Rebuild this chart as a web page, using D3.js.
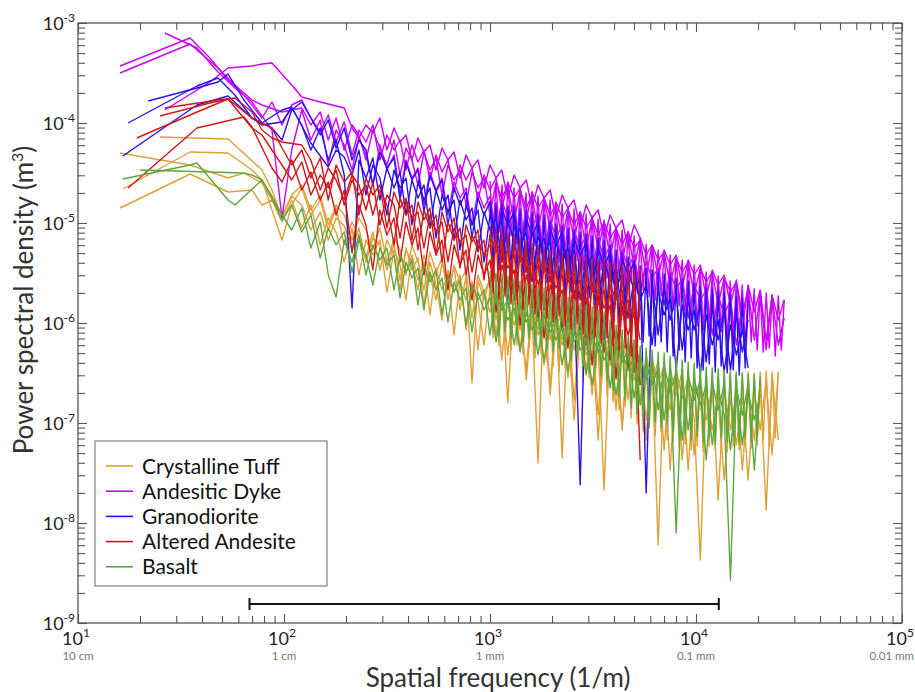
<!DOCTYPE html>
<html>
<head>
<meta charset="utf-8">
<script src="https://cdn.jsdelivr.net/npm/d3@7"></script>
<style>
  body { margin: 0; background: #fff; }
  text { font-family: Lato, "Open Sans", sans-serif; }
</style>
</head>
<body>
<div id="my_dataviz"></div>
<script>
  // shared frequency grid (1/m)
  var freq = [
    16.0, 16.5, 17.5, 19.3, 20.0, 21.9, 25.0, 26.4, 32.0, 35.0,
    37.8, 43.7, 47.8, 53.5, 57.8, 63.9, 69.9, 78.2, 87.4, 97.8,
    109, 122, 135, 150, 164, 179, 196, 214, 231, 250,
    270, 292, 316, 342, 366, 391, 418, 447, 478, 511,
    547, 585, 625, 669, 715, 765, 818, 874, 935, 1000,
    1070, 1140, 1220, 1310, 1400, 1500, 1600, 1710, 1830, 1960,
    2090, 2240, 2390, 2560, 2740, 2930, 3130, 3350, 3580, 3830,
    4090, 4380, 4680, 5010, 5360, 5730, 6120, 6550, 7000, 7490,
    8010, 8570, 9160, 9800, 10500, 11200, 12000, 12800, 13700, 14700,
    15700, 16800, 17900, 19200, 20500, 21900, 23400, 25100, 26800
  ];

  // finer grid for the dense high-frequency part (1/m)
  var freqFine = [
    1000, 1034, 1069, 1106, 1144, 1183, 1223, 1265, 1308, 1353,
    1399, 1447, 1496, 1547, 1600, 1655, 1711, 1770, 1830, 1893,
    1957, 2024, 2093, 2165, 2239, 2315, 2394, 2476, 2560, 2648,
    2738, 2831, 2928, 3028, 3131, 3238, 3349, 3463, 3581, 3703,
    3830, 3960, 4096, 4235, 4380, 4530, 4684, 4844, 5009, 5180,
    5357, 5540, 5729, 5924, 6126, 6335, 6552, 6775, 7006, 7245,
    7493, 7748, 8013, 8286, 8569, 8861, 9163, 9476, 9800, 10134,
    10480, 10838, 11208, 11590, 11986, 12395, 12818, 13255, 13708, 14175,
    14659, 15159, 15677, 16212, 16765, 17337, 17929, 18541, 19173, 19828,
    20504, 21204, 21928, 22676, 23450, 24250, 25078, 25934, 26819
  ];

  var _ = null;

  // log10 of power spectral density (m^3), one row per profile, aligned to freq
  var tuff = [
    [-4.30,_,_,_,_,_,_,_,_,-4.42,
     _,_,_,-4.55,_,-4.50,_,-4.60,-4.77,-4.92,
     -4.73,-4.82,-5.07,-4.89,-5.17,-4.95,-5.03,-5.27,-5.05,-5.39,
     -5.15,-5.22,-5.47,-5.20,-5.57,-5.27,-5.39,-5.67,-5.32,-5.52,
     -5.77,-5.39,-5.62,-5.45,-5.87,-5.53,-6.60,-5.57,-5.77,-5.55,
     -5.97,-5.62,-6.80,-5.67,-6.07,-5.72,-5.92,-7.40,-5.77,-6.17,
     -5.82,-7.35,-5.87,-6.27,-5.92,-6.47,-5.97,-6.22,-7.67,-6.07,
     -6.57,-6.12,-6.77,-6.17,-6.49],
    [_,-4.66,_,_,_,_,_,_,_,-4.29,
     _,_,_,-4.30,_,_,-4.47,-4.57,_,-5.17,
     -4.82,-4.65,-4.92,-4.77,-5.07,-4.85,-5.22,-4.99,-5.13,-5.35,
     -5.09,-5.47,-5.17,-5.32,-5.67,-5.25,-5.47,-5.35,-5.82,-5.39,
     -5.62,-5.97,-5.47,-5.69,-5.52,-6.07,-5.59,-5.77,-6.22,-5.65,
     -5.85,-5.69,-6.32,-5.75,-5.95,-6.47,-5.79,-6.07,-5.87,-6.62,
     -5.92,-6.17,-5.95,-6.77,-6.02,-6.27,-6.07,-6.92,-6.12,-6.37,
     -6.17,-7.07,-6.22,-6.49,-6.29,-7.17,-6.35,-6.62,-6.42,-7.47,
     -6.47,-6.75,-6.55,-7.32,-6.57,-6.97,-6.62,-7.77,-6.65,-7.07,
     -6.69,-7.47,-6.67,-7.17,-6.62,-7.87,-6.52,-7.17],
    [-4.85,_,_,_,_,_,_,_,-4.55,-4.51,
     _,_,_,-4.69,_,_,-4.67,-4.82,-4.77,-4.99,
     -4.77,-5.05,-4.82,-5.22,-4.95,-5.09,-5.39,-5.05,-5.52,-5.17,
     -5.32,-5.17,-5.69,-5.27,-5.42,-5.77,-5.32,-5.57,-5.39,-5.92,
     -5.45,-5.67,-5.52,-6.12,-5.57,-5.77,-5.62,-6.27,-5.67,-5.89,
     -5.72,-6.37,-5.77,-6.02,-5.82,-6.57,-5.87,-6.12,-5.92,-6.72,
     -5.97,-6.22,-6.02,-6.97,-6.07,-6.32,-6.12,-7.17,-6.17,-6.42,
     -6.22,-7.02,-6.29,-6.57,-6.35,-6.97,-6.42,-8.22,-6.47,-6.87,
     -6.52,-7.37,-6.57,-6.97,-8.37,-6.67,-7.07,-6.72,-7.57,-6.75,
     -7.22,-6.72,-7.57,-6.69,-7.07,-6.57,-7.32,-6.49],
    [_,_,_,_,_,_,-4.14,_,_,_,
     _,_,_,-4.16,_,_,_,-4.47,-4.67,-4.95,
     -4.72,-4.62,-4.87,-4.72,-5.02,-4.82,-4.92,-5.17,-4.95,-5.07,
     -5.27,-5.05,-5.39,-5.15,-5.27,-5.52,-5.22,-5.39,-5.67,-5.29,
     -5.49,-5.35,-5.77,-5.42,-5.59,-5.47,-5.95,-5.52,-5.69,-5.57,
     -6.12,-5.62,-5.79,-5.67,-6.27,-5.72,-5.95,-5.77,-6.42,-5.82,
     -6.05,-5.87,-6.55,-5.95,-6.17,-5.99,-6.72,-6.07,-6.27,-6.12,
     -6.87,-6.17,-6.42,-6.25,-6.77,-6.32,-6.57,-6.39,-7.27,-6.45,
     -6.72,-6.49,-7.47,-6.55,-6.87]
  ];

  var dyke = [
    [-3.50,_,_,_,_,_,_,_,_,-3.21,
     _,_,-3.45,_,-3.62,_,-3.77,-3.82,_,-3.89,
     _,-3.85,-4.02,-3.89,-4.17,-3.95,-4.27,-4.02,-4.12,-4.37,
     -4.07,-4.25,-4.42,-4.17,-4.52,-4.25,-4.37,-4.62,-4.29,-4.47,
     -4.35,-4.72,-4.42,-4.57,-4.47,-4.82,-4.49,-4.65,-4.55,-4.92,
     -4.59,-4.75,-4.63,-4.99,-4.67,-4.85,-4.72,-5.09,-4.75,-4.92,
     -4.82,-5.17,-4.87,-5.02,-4.89,-5.27,-4.95,-5.12,-4.99,-5.35,
     -5.05,-5.22,-5.09,-5.45,-5.15,-5.32,-5.22,-5.55,-5.27,-5.42,
     -5.32,-5.65,-5.37,-5.52,-5.42,-5.75,-5.47,-5.62,-5.52,-5.82,
     -5.57,-6.07,-5.62,-5.89,-5.67,-6.17,-5.72,-5.97,-5.77],
    [-3.43,_,_,_,_,_,_,_,_,-3.15,
     _,-3.35,_,-3.57,_,-3.72,_,-3.95,-3.79,-4.02,
     -3.82,-3.77,-3.95,-4.09,-3.92,-4.19,-3.99,-4.32,-4.07,-4.19,
     -4.02,-4.37,-4.12,-4.27,-4.17,-4.47,-4.22,-4.39,-4.27,-4.57,
     -4.32,-4.49,-4.37,-4.69,-4.42,-4.57,-4.45,-4.77,-4.52,-4.67,
     -4.55,-4.87,-4.59,-4.75,-4.65,-4.97,-4.69,-4.85,-4.75,-5.07,
     -4.79,-4.95,-4.85,-5.17,-4.89,-5.05,-4.95,-5.27,-4.99,-5.15,
     -5.05,-5.39,-5.09,-5.25,-5.17,-5.52,-5.22,-5.37,-5.29,-5.62,
     -5.35,-5.49,-5.39,-5.72,-5.45,-5.59,-5.49,-5.82,-5.55,-5.69,
     -5.59,-5.92,-5.65,-6.17,-5.69,-6.27,-5.73,-6.22,-5.95],
    [_,_,_,_,_,_,_,-3.10,_,_,
     -3.25,_,-3.49,_,-3.65,_,-3.79,_,-4.07,-4.95,
     -4.27,-3.87,-4.17,-3.97,-4.42,-4.07,-4.22,-4.47,-4.15,-4.32,
     -4.62,-4.22,-4.47,-4.32,-4.72,-4.37,-4.55,-4.45,-4.82,-4.49,
     -4.67,-4.55,-4.92,-4.59,-4.75,-4.65,-5.02,-4.69,-4.85,-4.73,
     -5.12,-4.77,-4.95,-4.82,-5.22,-4.87,-5.05,-4.92,-5.32,-4.97,
     -5.15,-5.02,-5.42,-5.07,-5.25,-5.12,-5.49,-5.17,-5.35,-5.22,
     -5.59,-5.27,-5.45,-5.32,-5.69,-5.39,-5.55,-5.45,-5.82,-5.49,
     -5.67,-5.55,-5.95,-5.62,-5.77,-5.67,-6.12,-5.72,-5.92,-5.77,
     -6.22,-5.82],
    [_,_,_,_,_,_,_,-3.87,_,_,
     _,-3.59,_,-3.45,_,_,-3.43,-3.41,-3.40,_,
     -3.62,-3.74,_,-3.79,_,-3.83,-3.85,-4.05,-4.15,-4.02,
     -4.10,-3.95,-4.27,-4.05,-4.19,-4.12,-4.37,-4.15,-4.29,-4.22,
     -4.47,-4.25,-4.37,-4.29,-4.55,-4.32,-4.45,-4.37,-4.65,-4.42,
     -4.55,-4.47,-4.75,-4.52,-4.65,-4.57,-4.85,-4.62,-4.75,-4.67,
     -4.95,-4.72,-4.85,-4.77,-5.05,-4.82,-4.95,-4.87,-5.15,-4.92,
     -5.05,-4.97,-5.25,-5.02,-5.15]
  ];

  var grano = [
    [_,-4.33,_,_,_,_,_,_,_,_,
     -3.82,_,_,-3.73,_,_,-3.95,-4.02,_,-3.99,
     -3.85,-4.02,-4.27,-4.05,-4.37,-4.17,-4.52,-5.85,-4.37,-4.55,
     -4.35,-4.77,-4.45,-4.65,-4.49,-4.92,-4.57,-4.75,-4.62,-5.05,
     -4.67,-4.87,-4.72,-5.17,-4.77,-4.97,-4.85,-5.29,-4.89,-5.07,
     -4.95,-5.39,-4.99,-5.17,-5.05,-5.49,-5.09,-5.27,-5.15,-5.59,
     -5.19,-5.39,-5.25,-5.69,-7.62,-5.47,-5.32,-5.79,-5.39,-5.57,
     -5.45,-5.89,-5.49,-5.67,-5.55,-7.70,-5.59,-6.12,-5.65,-5.97,
     -5.72,-6.27,-5.77,-6.07,-5.82,-6.39,-5.85,-6.17,-5.89,-6.47,
     -5.92,-6.29,-5.97],
    [_,_,-4.00,_,_,_,_,_,_,_,
     -3.63,_,-3.55,_,-3.72,_,-3.95,_,-4.05,-4.17,
     -3.87,-3.79,-3.95,-4.12,-3.97,-4.25,-4.05,-4.37,-4.17,-4.27,
     -4.62,-4.29,-4.45,-4.35,-4.77,-4.39,-4.57,-4.47,-4.89,-4.52,
     -4.69,-4.57,-5.02,-4.65,-4.82,-4.69,-5.15,-4.75,-4.92,-4.79,
     -5.25,-4.85,-5.02,-4.89,-5.35,-4.95,-5.13,-4.99,-5.45,-5.05,
     -5.23,-5.09,-5.55,-5.15,-5.33,-5.19,-5.65,-5.25,-5.43,-5.29,
     -5.75,-5.35,-5.53,-5.39,-5.87],
    [_,_,_,_,_,-3.78,_,_,_,_,
     -3.65,_,-3.59,-3.51,_,-3.77,_,-4.00,_,-3.87,
     -3.84,_,-4.20,_,-4.44,-4.27,-4.34,-4.52,-4.27,-4.72,
     -4.42,-4.55,-4.92,-4.47,-4.65,-4.55,-5.02,-4.59,-4.77,-4.65,
     -5.15,-4.72,-4.89,-4.77,-5.27,-4.82,-5.02,-4.87,-5.39,-4.92,
     -5.12,-4.97,-5.77,-5.02,-5.22,-5.09,-5.59,-5.13,-5.32,-5.17,
     -5.97,-5.22,-5.42,-5.27,-5.77,-5.32,-5.52,-5.39,-6.17,-5.45,
     -5.67,-5.49,-5.95,-5.55,-5.77,-5.62,-6.22,-5.67,-5.92,-5.75,
     -6.47,-5.82,-6.07,-5.87,-6.52,-5.92,-6.22,-5.97,-6.49,-6.02,
     -6.32,-6.07,-6.45]
  ];

  var andesite = [
    [_,_,-4.65,_,_,_,_,_,_,_,
     -4.05,_,_,_,_,-3.94,-4.04,_,-4.45,-4.59,
     -4.37,-4.67,-4.49,-4.77,-4.59,-4.92,-4.67,-5.30,-4.82,-5.02,
     -5.47,-4.87,-5.12,-4.95,-5.39,-4.99,-5.22,-5.05,-5.52,-5.09,
     -5.32,-5.17,-5.67,-5.22,-5.42,-5.27,-5.77,-5.32,-5.52,-5.37,
     -5.89,-5.42,-5.62,-5.47,-6.02,-5.52,-5.72,-5.57,-6.15,-5.62,
     -5.82,-5.67,-6.25,-5.69,-5.92,-5.75,-6.42,-5.77,-6.02,-5.82,
     -6.55,-5.87,-6.12,-5.89,-6.62],
    [_,_,_,-4.15,_,_,_,_,_,-3.92,
     _,_,_,-3.76,_,_,-4.05,-4.12,-4.27,-4.42,
     -4.57,-4.39,-4.72,-4.52,-4.65,-4.47,-4.82,-4.57,-4.72,-4.62,
     -4.92,-4.67,-4.82,-5.22,-4.75,-4.92,-4.82,-5.27,-4.87,-5.05,
     -4.92,-5.39,-4.99,-5.17,-5.05,-5.52,-5.12,-5.27,-5.17,-5.65,
     -5.22,-5.39,-5.27,-5.77,-5.32,-5.49,-5.39,-5.95,-5.42,-5.59,
     -5.47,-6.07,-5.52,-5.69,-5.57,-6.22,-5.62,-5.79,-5.67,-6.37,
     -5.72,-5.89,-5.77,-6.49,-5.82],
    [_,_,_,_,_,_,-3.93,_,_,_,
     _,-3.80,_,-3.76,_,_,-3.95,_,-4.05,-4.25,
     -4.42,-4.27,-4.55,-4.35,-4.77,-4.42,-4.59,-4.49,-4.92,-4.55,
     -4.72,-4.62,-5.05,-4.69,-4.85,-4.75,-5.17,-4.79,-4.97,-4.85,
     -5.32,-4.89,-5.09,-4.95,-5.45,-5.02,-5.19,-5.07,-5.57,-5.12,
     -5.29,-5.17,-5.72,-5.22,-5.39,-5.27,-5.85,-5.32,-5.49,-5.37,
     -5.99,-5.42,-5.59,-5.47,-6.12,-5.52,-5.69,-5.57,-6.29,-5.62,
     -5.77,-5.67,-6.47,-5.72,-7.37],
    [_,_,_,_,_,_,_,-3.85,_,_,
     _,_,-3.77,_,-3.75,_,-3.89,-4.07,-4.15,-4.19,
     _,-4.22,-4.37,-4.67,-4.45,-4.57,-4.77,-4.52,-4.62,-4.87,
     -4.59,-5.02,-4.72,-4.82,-5.15,-4.77,-4.95,-4.89,-5.25,-4.92,
     -5.09,-4.99,-5.39,-5.05,-5.19,-5.12,-5.49,-5.17,-5.32,-5.22,
     -5.62,-5.27,-5.45,-5.32,-5.75,-5.37,-5.55,-5.42,-5.87,-5.47,
     -5.65,-5.52,-5.99,-5.57,-5.75,-5.62,-6.12,-5.67,-5.85,-5.72,
     -6.25,-5.77,-5.95,-5.82,-6.17]
  ];

  var basalt = [
    [_,-4.56,_,_,_,_,_,_,_,-4.42,
     -4.40,_,_,-4.77,-4.82,_,_,-4.57,-4.73,-4.92,
     -5.07,-4.85,-5.25,-4.99,-5.52,-5.74,-5.17,-5.39,-5.12,-5.52,
     -5.22,-5.37,-5.25,-5.67,-5.32,-5.49,-5.37,-5.82,-5.42,-5.59,
     -5.47,-5.92,-5.52,-5.69,-5.57,-6.02,-5.62,-5.77,-5.67,-6.12,
     -5.72,-5.87,-5.77,-6.22,-5.82,-5.99,-5.87,-6.32,-5.92,-6.09,
     -5.97,-6.42,-6.02,-6.19,-6.07,-6.52,-6.12,-6.29,-6.17,-6.65,
     -6.22,-6.39,-6.27,-6.75,-6.32,-6.57,-6.37,-6.87,-6.42,-6.69,
     -6.49,-7.17,-6.52,-6.77,-6.57,-7.37,-6.59,-6.87,-6.62,-7.27,
     -6.65,-6.92,-6.62,-7.47,-6.57],
    [_,_,_,_,-4.47,_,_,_,_,_,
     _,_,_,_,_,-4.50,-4.52,-4.57,-4.75,-4.97,
     -4.82,-5.09,-4.92,-5.35,-5.05,-5.22,-5.09,-5.49,-5.17,-5.32,
     -5.62,-5.25,-5.42,-5.32,-5.75,-5.39,-5.55,-5.45,-5.87,-5.49,
     -5.67,-5.55,-5.99,-5.59,-5.77,-5.65,-6.09,-5.69,-5.87,-5.75,
     -6.19,-5.79,-5.97,-5.85,-6.29,-5.89,-6.07,-5.95,-6.39,-5.99,
     -6.17,-6.05,-6.49,-6.09,-6.27,-6.15,-6.62,-6.19,-6.37,-6.25,
     -6.72,-6.29,-6.47,-6.35,-6.82,-6.39,-6.62,-6.45,-6.97,-6.49,
     -8.10,-6.55,-7.07,-6.57,-6.82,-6.62,-7.22,-6.65,-6.92,-8.57,
     -6.67,-7.22,-6.69,-6.97,-6.72]
  ];

  // log10 PSD of the finely sampled profiles, aligned to freqFine
  var tuffFine = [
    -5.58,-6.15,-5.60,-6.23,-5.61,-6.19,-5.63,-6.27,-5.65,-6.22,
    -5.68,-6.31,-5.70,-6.25,-5.72,-6.35,-5.74,-6.31,-5.76,-6.39,
    -5.78,-6.43,-5.80,-6.49,-5.82,-6.45,-5.85,-6.53,-5.87,-6.49,
    -5.90,-6.59,-5.92,-6.55,-5.94,-6.63,-5.96,-6.67,-5.99,-6.73,
    -6.07,-6.79,-6.12,-6.87,-6.17,-6.83,-6.21,-6.95,-6.26,-7.01,
    -6.33,-7.09,-6.35,-7.05,-6.37,-7.13,-6.39,-7.09,-6.40,-7.17,
    -6.43,-7.19,-6.45,-7.25,-6.47,-7.21,-6.49,-7.27,-6.50,-7.23,
    -6.53,-7.29,-6.52,-7.23,-6.51,-7.27,-6.52,-7.25,-6.51,-7.29,
    -6.50,-7.23,-6.51,-7.27,-6.50,-7.21,-6.49,-7.25,-6.50,-7.22,
    -6.49,-7.17,-6.48,-7.23,-6.49,-7.15,-6.50
  ];
  var dykeFine = [
    -4.58,-5.15,-4.60,-5.09,-4.62,-5.18,-4.61,-5.13,-4.65,-5.21,
    -4.68,-5.17,-4.70,-5.27,-4.69,-5.23,-4.73,-5.30,-4.75,-5.26,
    -4.77,-5.32,-4.80,-5.39,-4.81,-5.35,-4.84,-5.43,-4.86,-5.38,
    -4.89,-5.47,-4.91,-5.42,-4.93,-5.51,-4.96,-5.47,-4.97,-5.55,
    -5.01,-5.59,-5.04,-5.53,-5.07,-5.64,-5.09,-5.60,-5.13,-5.69,
    -5.18,-5.67,-5.21,-5.74,-5.23,-5.77,-5.27,-5.73,-5.29,-5.82,
    -5.32,-5.87,-5.35,-5.83,-5.37,-5.93,-5.39,-5.97,-5.42,-6.03,
    -5.47,-6.07,-5.49,-6.03,-5.51,-6.13,-5.53,-6.09,-5.55,-6.17,
    -5.58,-6.19,-5.60,-6.15,-5.62,-6.22,-5.64,-6.19,-5.66,-6.27,
    -5.68,-6.29,-5.70,-6.25,-5.72,-6.33,-5.73,-6.27,-5.77
  ];
  var granoFine = [
    -4.78,-5.39,-4.80,-5.47,-4.81,-5.43,-4.83,-5.51,-4.84,-5.46,
    -4.86,-5.53,-4.88,-5.61,-4.89,-5.57,-4.91,-5.65,-4.92,-5.60,
    -4.99,-5.69,-5.01,-5.63,-5.03,-5.73,-5.05,-5.69,-5.07,-5.77,
    -5.09,-5.81,-5.11,-5.75,-5.13,-5.85,-5.15,-5.81,-5.17,-5.92,
    -5.23,-5.97,-5.27,-6.03,-5.30,-5.99,-5.34,-6.09,-5.37,-6.13,
    -5.43,-6.19,-5.45,-6.13,-5.47,-6.23,-5.49,-6.19,-5.51,-6.29,
    -5.53,-6.33,-5.55,-6.27,-5.57,-6.39,-5.58,-6.35,-5.60,-6.45,
    -5.63,-6.47,-5.65,-6.41,-5.66,-6.49,-5.68,-6.43,-5.70,-6.50,
    -5.72,-6.47,-5.74,-6.52,-5.75,-6.45,-5.77
  ];
  var andesiteFine = [
    -5.03,-5.69,-5.05,-5.77,-5.06,-5.73,-5.09,-5.81,-5.11,-5.77,
    -5.15,-5.87,-5.17,-5.81,-5.20,-5.91,-5.22,-5.87,-5.25,-5.95,
    -5.27,-5.99,-5.28,-5.93,-5.29,-6.03,-5.30,-6.07,-5.32,-6.01,
    -5.33,-6.11,-5.34,-6.17,-5.35,-6.13,-5.36,-6.21,-5.38,-6.15,
    -5.39,-6.23,-5.41,-6.29,-5.42,-6.25,-5.43,-6.33,-5.45,-6.27,
    -5.47
  ];
  var basaltFine = [
    -5.48,-6.05,-5.50,-6.13,-5.51,-6.09,-5.53,-6.15,-5.55,-6.11,
    -5.58,-6.19,-5.60,-6.15,-5.61,-6.23,-5.63,-6.19,-5.65,-6.26,
    -5.68,-6.29,-5.70,-6.25,-5.72,-6.33,-5.74,-6.37,-5.76,-6.32,
    -5.80,-6.43,-5.82,-6.49,-5.84,-6.45,-5.87,-6.53,-5.89,-6.57,
    -5.97,-6.67,-6.02,-6.73,-6.07,-6.77,-6.12,-6.85,-6.17,-6.91,
    -6.23,-6.95,-6.25,-7.03,-6.27,-6.99,-6.29,-7.05,-6.30,-7.01,
    -6.33,-7.09,-6.35,-7.15,-6.37,-7.11,-6.39,-7.17,-6.40,-7.13,
    -6.43,-7.19,-6.44,-7.13,-6.45,-7.21,-6.46,-7.15,-6.47,-7.19,
    -6.48,-7.13,-6.49,-7.21,-6.50,-7.15,-6.51,-7.19,-6.52,-7.13,
    -6.53
  ];

  var rockNames = ["Crystalline Tuff", "Andesitic Dyke", "Granodiorite", "Altered Andesite", "Basalt"];
  var rockColors = ["#e0a038", "#cc00ff", "#2a10f0", "#d01818", "#5ca83e"];
  var rockSeries = [tuff, dyke, grano, andesite, basalt];
  var rockFine = [tuffFine, dykeFine, granoFine, andesiteFine, basaltFine];

  var xMajor = [10, 100, 1000, 10000, 100000];
  var xExp = ["1", "2", "3", "4", "5"];
  var xSubLabels = ["10 cm", "1 cm", "1 mm", "0.1 mm", "0.01 mm"];
  var yMajor = [1e-9, 1e-8, 1e-7, 1e-6, 1e-5, 1e-4, 1e-3];
  var yExp = ["-9", "-8", "-7", "-6", "-5", "-4", "-3"];

  // measurement range bar (1/m) and the level it is drawn at
  var scaleBar = [68, 12900];
  var scaleBarLevel = 1.55e-9;

  var width = 915, height = 692;
  var margin = { top: 23, right: 13, bottom: 69, left: 78 };

  var svg = d3.select("#my_dataviz")
    .append("svg")
    .attr("width", width)
    .attr("height", height)
    .style("background", "#fff");

  var x = d3.scaleLog()
    .domain([10, 1e5])
    .range([margin.left, width - margin.right]);
  var y = d3.scaleLog()
    .domain([1e-9, 1e-3])
    .range([height - margin.bottom, margin.top]);

  var x0 = margin.left, x1 = width - margin.right;
  var y0 = height - margin.bottom, y1 = margin.top;

  svg.append("clipPath").attr("id", "plotclip")
    .append("rect")
    .attr("x", x0).attr("y", y1)
    .attr("width", x1 - x0).attr("height", y0 - y1);

  // spectra
  var line = d3.line()
    .x(function(d) { return x(d[0]); })
    .y(function(d) { return y(d[1]); });

  function toPoints(grid, vals) {
    var pts = [];
    vals.forEach(function(v, i) {
      if (v != null) pts.push([grid[i], Math.pow(10, v)]);
    });
    return pts;
  }

  var plot = svg.append("g").attr("clip-path", "url(#plotclip)");
  rockSeries.forEach(function(group, gi) {
    var profiles = group.map(function(vals) { return toPoints(freq, vals); });
    profiles.push(toPoints(freqFine, rockFine[gi]));
    profiles.forEach(function(pts) {
      plot.append("path")
        .attr("d", line(pts))
        .attr("fill", "none")
        .attr("stroke", rockColors[gi])
        .attr("stroke-width", 1.4)
        .attr("stroke-linejoin", "round");
    });
  });

  // ticks on all four sides, pointing inwards
  function isMajor(v) {
    var l = Math.log10(v);
    return Math.abs(l - Math.round(l)) < 1e-6;
  }
  function styleAxis(g, horiz, sign) {
    g.select(".domain").remove();
    g.selectAll(".tick line")
      .attr("stroke", "#555")
      .attr("stroke-width", 1.1)
      .each(function(d) {
        var len = isMajor(d) ? 9 : 7;
        d3.select(this).attr(horiz ? "y2" : "x2", sign * len);
      });
  }

  svg.append("g")
    .attr("transform", "translate(0," + y0 + ")")
    .call(d3.axisBottom(x).tickValues(x.ticks()).tickFormat(""))
    .call(styleAxis, true, -1);
  svg.append("g")
    .attr("transform", "translate(0," + y1 + ")")
    .call(d3.axisTop(x).tickValues(x.ticks()).tickFormat(""))
    .call(styleAxis, true, 1);
  svg.append("g")
    .attr("transform", "translate(" + x0 + ",0)")
    .call(d3.axisLeft(y).tickValues(y.ticks()).tickFormat(""))
    .call(styleAxis, false, 1);
  svg.append("g")
    .attr("transform", "translate(" + x1 + ",0)")
    .call(d3.axisRight(y).tickValues(y.ticks()).tickFormat(""))
    .call(styleAxis, false, -1);

  svg.append("rect")
    .attr("x", x0).attr("y", y1)
    .attr("width", x1 - x0).attr("height", y0 - y1)
    .attr("fill", "none")
    .attr("stroke", "#555")
    .attr("stroke-width", 1.3);

  // x tick labels
  xMajor.forEach(function(v, i) {
    var t = svg.append("text")
      .attr("x", x(v) - 2)
      .attr("y", y0 + 22)
      .attr("text-anchor", "middle")
      .attr("fill", "#222")
      .style("font-size", "18px");
    t.append("tspan").text("10");
    t.append("tspan").attr("dy", -8).style("font-size", "12px").text(xExp[i]);

    // the last one sits against the right edge of the page
    var last = i === xMajor.length - 1;
    svg.append("text")
      .attr("x", last ? width - 1 : x(v))
      .attr("y", y0 + 36.5)
      .attr("text-anchor", last ? "end" : "middle")
      .attr("fill", "#777")
      .style("font-size", "11.5px")
      .text(xSubLabels[i]);
  });

  // y tick labels
  yMajor.forEach(function(v, i) {
    var t = svg.append("text")
      .attr("x", x0 - 3)
      .attr("y", y(v) + 7)
      .attr("text-anchor", "end")
      .attr("fill", "#222")
      .style("font-size", "18px");
    t.append("tspan").text("10");
    t.append("tspan").attr("dy", -8).style("font-size", "12px").text(yExp[i]);
  });

  // axis titles
  svg.append("text")
    .attr("x", (x0 + x1) / 2 + 8)
    .attr("y", height - 5)
    .attr("text-anchor", "middle")
    .attr("fill", "#333")
    .style("font-size", "26px")
    .text("Spatial frequency (1/m)");

  var yt = svg.append("text")
    .attr("transform", "translate(33,300) rotate(-90)")
    .attr("text-anchor", "middle")
    .attr("fill", "#333")
    .style("font-size", "26px");
  yt.append("tspan").text("Power spectral density (m");
  yt.append("tspan").attr("dy", -10).style("font-size", "16px").text("3");
  yt.append("tspan").attr("dy", 10).text(")");

  // measurement range bar
  var by = y(scaleBarLevel);
  svg.append("line")
    .attr("x1", x(scaleBar[0])).attr("x2", x(scaleBar[1]))
    .attr("y1", by).attr("y2", by)
    .attr("stroke", "#111").attr("stroke-width", 2);
  scaleBar.forEach(function(f) {
    svg.append("line")
      .attr("x1", x(f)).attr("x2", x(f))
      .attr("y1", by - 6).attr("y2", by + 6)
      .attr("stroke", "#111").attr("stroke-width", 2);
  });

  // legend
  var legend = svg.append("g").attr("transform", "translate(95,441)");
  legend.append("rect")
    .attr("width", 232).attr("height", 145)
    .attr("fill", "#fff")
    .attr("stroke", "#666")
    .attr("stroke-width", 1);
  rockNames.forEach(function(name, i) {
    var cy = 25 + i * 25.2;
    legend.append("line")
      .attr("x1", 11).attr("x2", 38)
      .attr("y1", cy).attr("y2", cy)
      .attr("stroke", rockColors[i])
      .attr("stroke-width", 1.6);
    legend.append("text")
      .attr("x", 47).attr("y", cy)
      .attr("dy", "0.36em")
      .attr("fill", "#111")
      .style("font-size", "21px")
      .text(name);
  });
</script>
</body>
</html>
